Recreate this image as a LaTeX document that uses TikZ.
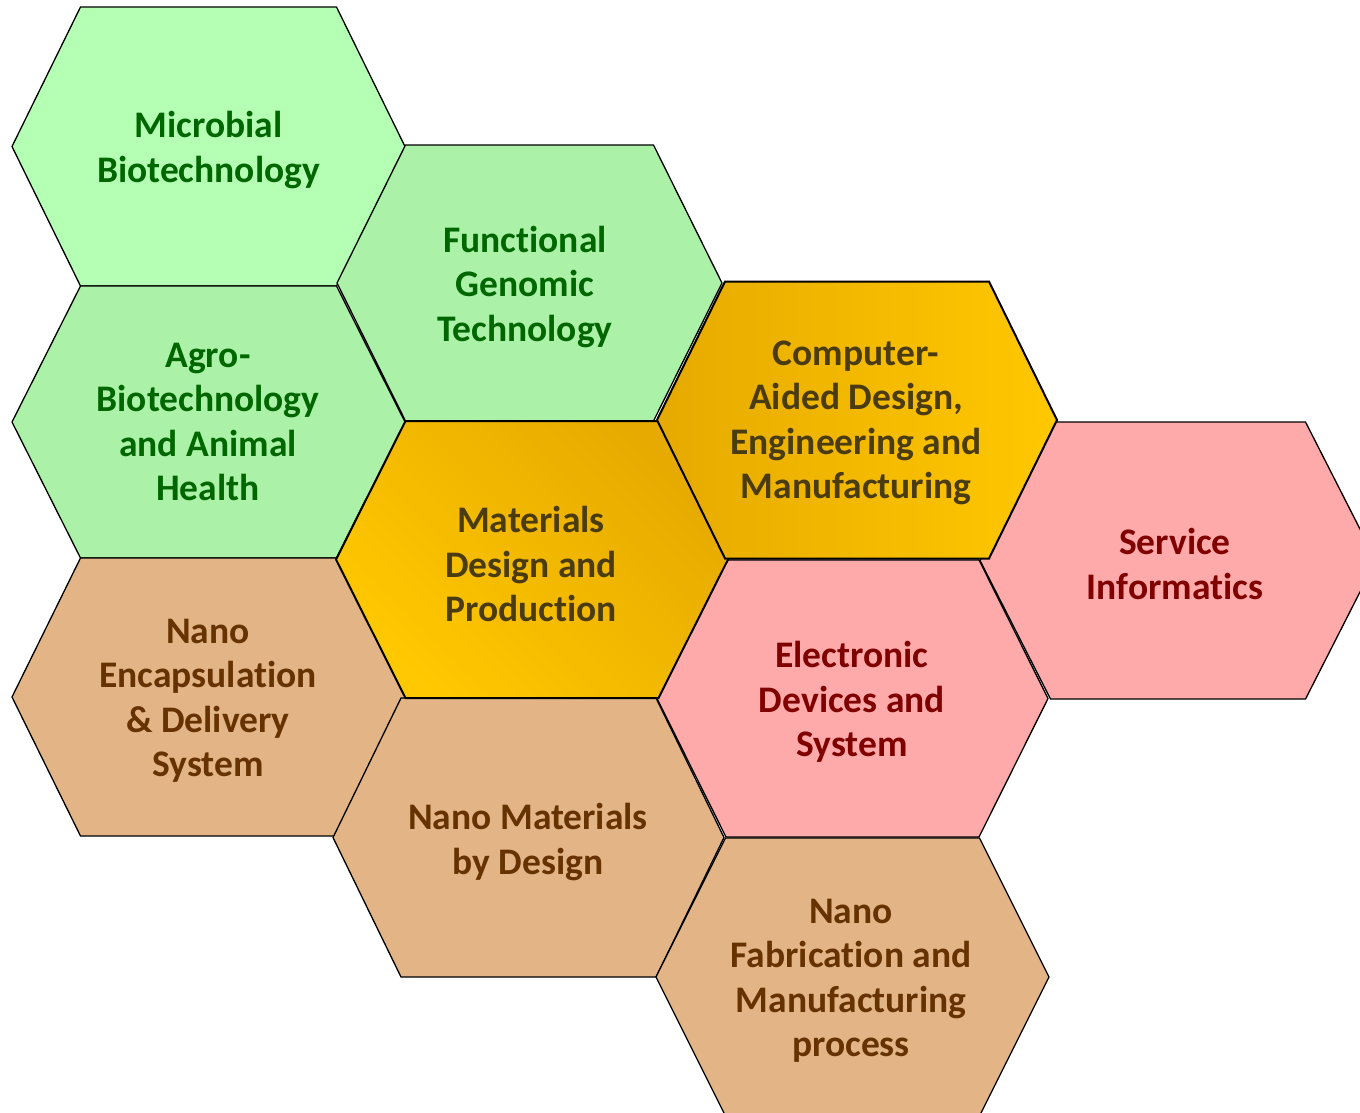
\documentclass[tikz,border=0pt]{standalone}
\usepackage{fontspec}
\setmainfont{Carlito}[Ligatures={NoCommon}]
\definecolor{gA}{RGB}{181,255,181}
\definecolor{gB}{RGB}{171,242,168}
\definecolor{gtext}{RGB}{0,102,0}
\definecolor{golddark}{RGB}{230,170,0}
\definecolor{goldlight}{RGB}{255,200,0}
\definecolor{goldtext}{RGB}{74,60,16}
\definecolor{pinkfill}{RGB}{254,170,170}
\definecolor{redtext}{RGB}{128,0,0}
\definecolor{tanfill}{RGB}{226,180,134}
\definecolor{browntext}{RGB}{102,51,0}
% #1 cx, #2 cy (pixels, downward), #3 half width, #4 half top edge, #5 half height, #6 style
\newcommand\hexagon[6]{%
  \path[#6] (#1-#3,-#2) -- (#1-#4,-#2+#5) -- (#1+#4,-#2+#5) -- (#1+#3,-#2)
    -- (#1+#4,-#2-#5) -- (#1-#4,-#2-#5) -- cycle;}
\tikzset{
  hexline/.style={draw=black, line width=1.3pt, line join=miter},
  goldline/.style={draw=black, line width=2pt, line join=miter},
  lbl/.style={align=center, font=\fontsize{37.5}{44.5}\selectfont\bfseries, inner sep=0pt},
}
\begin{document}
\begin{tikzpicture}[x=1pt,y=1pt]
\clip (0,0) rectangle (1360,-1112);
\fill[white] (0,0) rectangle (1360,-1112);
% green
\hexagon{208.5}{146.5}{196.5}{128}{139.5}{hexline, fill=gA}
\hexagon{529.5}{283}{192.5}{124}{138}{hexline, fill=gB}
\hexagon{208.5}{422}{196.5}{128}{136}{hexline, fill=gB}
% tan
\hexagon{208.5}{697}{196.5}{128}{139}{hexline, fill=tanfill}
\hexagon{528.5}{837.5}{195.5}{127.5}{139.5}{hexline, fill=tanfill}
\hexagon{852.5}{977}{196.5}{127}{139}{hexline, fill=tanfill}
% pink
\hexagon{1178}{560.5}{198}{127.5}{138.5}{hexline, fill=pinkfill}
\hexagon{852.5}{698.5}{195.5}{126.5}{138.5}{hexline, fill=pinkfill}
% gold
\hexagon{532}{559.5}{196}{126.5}{138.5}{goldline, top color=golddark, bottom color=goldlight, shading angle=-45}
\hexagon{857}{420}{200}{132}{138.5}{goldline, left color=golddark, right color=goldlight}
% labels
\node[lbl, text=gtext] (microbial) at (208.5,-150) {Microbial\\Biotechnology};
\node[lbl, text=gtext] (functional) at (525,-287) {Functional\\Genomic\\Technology};
\node[lbl, text=gtext] (agro) at (208,-422) {Agro-\\Biotechnology\\and Animal\\Health};
\node[lbl, text=goldtext] (materials) at (531,-564) {Materials\\Design and\\Production};
\node[lbl, text=goldtext] (cad) at (856,-423) {Computer-\\Aided Design,\\Engineering and\\Manufacturing};
\node[lbl, text=redtext] (service) at (1175,-564) {Service\\Informatics};
\node[lbl, text=redtext] (electronic) at (852,-702) {Electronic\\Devices and\\System};
\node[lbl, text=browntext] (encaps) at (208,-701) {Nano\\Encapsulation\\\& Delivery\\System};
\node[lbl, text=browntext] (nanomat) at (528,-842) {Nano Materials\\by Design};
\node[lbl, text=browntext] (nanofab) at (851,-981) {Nano\\Fabrication and\\Manufacturing\\process};
\end{tikzpicture}
\end{document}
